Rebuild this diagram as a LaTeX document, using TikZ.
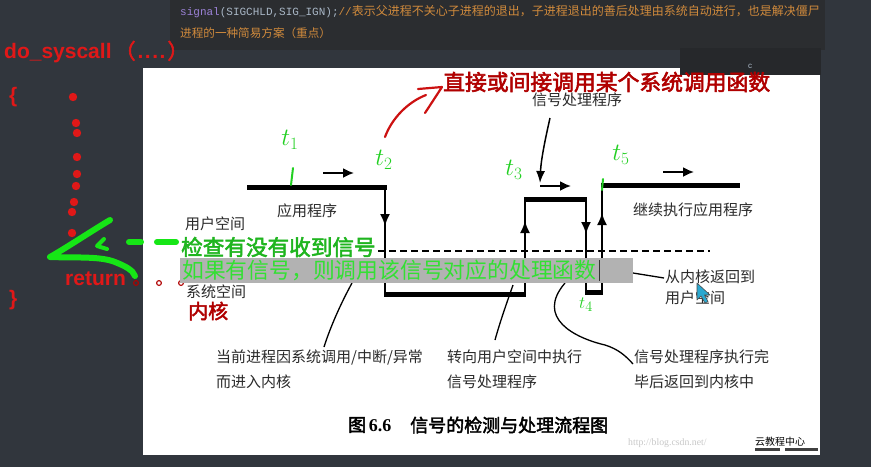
\documentclass[tikz,border=0pt]{standalone}
\usepackage{fontspec}
\setmainfont{Liberation Sans}
\newfontfamily\cjk[AutoFakeBold=2.5]{Noto Sans CJK SC}
\newfontfamily\codefont{Liberation Mono}
\newfontfamily\capserif{Liberation Serif}
\usetikzlibrary{arrows.meta}
\definecolor{bgc}{HTML}{31363D}
\definecolor{codebg}{HTML}{2B2D30}
\definecolor{boxdark}{HTML}{26282B}
\definecolor{codepurple}{HTML}{9C82D8}
\definecolor{codegray}{HTML}{A9B7C6}
\definecolor{codeorange}{HTML}{D08A3C}
\definecolor{redtxt}{HTML}{E01818}
\definecolor{darkred}{HTML}{B00000}
\definecolor{penred}{HTML}{CC1111}
\definecolor{pengreen}{HTML}{16E616}
\definecolor{tgreen}{HTML}{22D022}
\definecolor{gtext}{HTML}{1FB51F}
\definecolor{gtext2}{HTML}{33E033}
\definecolor{graybox}{HTML}{B2B2B2}
\definecolor{lblgray}{HTML}{2A2A2A}
\definecolor{wmgray}{HTML}{C8C8C8}
\definecolor{cursorblue}{HTML}{2AA8D0}
\begin{document}
\begin{tikzpicture}[x=1pt,y=-1pt,
  lbl/.style={anchor=west,inner sep=0pt,font=\cjk\fontsize{15}{18}\selectfont,text=lblgray},
  thickl/.style={line width=5pt,draw=black},
  thinl/.style={line width=1.6pt,draw=black},
  arr/.style={-{Latex[length=12pt,width=10pt]},line width=1.6pt},
  rarr/.style={-{Latex[length=11pt,width=10pt]},line width=1.8pt},
  redhand/.style={draw=penred,line width=2.2pt,line cap=round,line join=round},
  greenstroke/.style={draw=pengreen,line width=6pt,line cap=round,line join=round},
  tick/.style={draw=tgreen,line width=2pt,line cap=round},
  tlab/.style={inner sep=0pt,text=tgreen,font=\fontsize{25}{28}\selectfont},
  reddot/.style={fill=redtxt,draw=none},
  leader/.style={draw=black,line width=1.3pt}
]
\useasboundingbox (0,0) rectangle (871,467);
% backgrounds
\fill[bgc] (0,0) rectangle (871,467);
\fill[codebg] (170,0) rectangle (825,50);
\fill[white] (143,68) rectangle (820,455);
\fill[boxdark] (680,48) rectangle (821,75);
\node[inner sep=0pt,text=codegray,font=\fontsize{8}{9}\selectfont] (cc) at (750,66) {c};

% code text
\node[anchor=west,inner sep=0pt] (code1) at (180,12)
  {\codefont\fontsize{11}{13}\selectfont\textcolor{codepurple}{signal}\textcolor{codegray}{(SIGCHLD,SIG\_IGN);}\textcolor{codeorange}{//{\cjk\fontsize{12}{14}\selectfont 表示父进程不关心子进程的退出，子进程退出的善后处理由系统自动进行，也是解决僵尸}}};
\node[anchor=west,inner sep=0pt,text=codeorange,font=\cjk\fontsize{11.6}{14}\selectfont] (code2) at (180,33) {进程的一种简易方案（重点）};

% left red code
\node[anchor=west,inner sep=0pt,text=redtxt] (dosys) at (4,52)
  {\fontsize{21}{24}\selectfont\bfseries do\_syscall\hspace{3pt}{\cjk （}\hspace{2pt}.\hspace{1.5pt}.\hspace{1.5pt}.\hspace{1.5pt}.\hspace{2pt}{\cjk ）}};
\node[anchor=west,inner sep=0pt,text=redtxt,font=\fontsize{21}{24}\selectfont\bfseries] (lbrace) at (9,97) {\{};
\node[anchor=west,inner sep=0pt,text=redtxt,font=\fontsize{21}{24}\selectfont\bfseries] (rbrace) at (9,300) {\}};
\foreach \px/\py [count=\i] in {73/97,76/123,77/133,77/157,77/174,76/186,74/202,72/212,72/233}
  \fill[reddot] (\px,\py) circle (4.2);
\node[anchor=west,inner sep=0pt,text=redtxt,font=\fontsize{21}{24}\selectfont\bfseries] (ret) at (65,279) {return};
\foreach \px in {136,159,181}
  \draw[darkred,line width=1.1pt] (\px,283) circle (2.4);

% green strokes
\draw[greenstroke] (110,220) .. controls (90,232) and (66,248) .. (50,257)
  .. controls (75,258) and (100,256) .. (115,262) .. controls (125,266) and (133,270) .. (135,276);
\draw[greenstroke,line width=4pt] (104,239) -- (97,246) -- (107,249);
\draw[greenstroke] (129,242) -- (141,242);
\draw[greenstroke] (157,242) -- (176,242);

% ---------- figure ----------
\coordinate (a0) at (247,187);
\coordinate (a1) at (385,187);
\coordinate (b1) at (385,294);
\coordinate (b2) at (525,294);
\coordinate (c2) at (525,199);
\coordinate (c3) at (586,199);
\coordinate (d3) at (586,292);
\coordinate (d4) at (602,292);
\coordinate (e4) at (602,185);
\coordinate (e5) at (740,185);

\draw[thinl] (a1) -- (b1);
\draw[thinl] (b2) -- (c2);
\draw[thinl] (c3) -- (d3);
\draw[thinl] (d4) -- (e4);
\draw[thickl] (a0) -- ([xshift=1.5pt]a1);
\draw[thickl] ([xshift=-0.8pt]b1) -- ([xshift=0.8pt]b2);
\draw[thickl] ([xshift=-0.8pt]c2) -- ([xshift=0.8pt]c3);
\draw[thickl] ([xshift=-0.8pt]d3) -- ([xshift=0.8pt]d4);
\draw[thickl] ([xshift=-0.8pt]e4) -- (e5);

\draw[arr] (385,205) -- (385,226);
\draw[arr] (525,245) -- (525,221);
\draw[arr] (586,215) -- (586,234);
\draw[arr] (602,230) -- (602,213);
\draw[rarr] (323,173) -- (354,173);
\draw[rarr] (663,172) -- (694,172);

% dashed boundary
\draw[black,line width=1.2pt,dash pattern=on 7pt off 4pt] (378,251) -- (710,251);

% signal handler pointer
\node[lbl] (sigh) at (532,100) {信号处理程序};
\draw[-{Latex[length=12pt,width=9pt]},line width=1.5pt] (550,118) .. controls (545,140) and (541,160) .. (540,183);
\draw[rarr] (540,186) -- (571,186);

% labels
\node[lbl] (user) at (185,224) {用户空间};
\node[lbl] (sys) at (186,292) {系统空间};
\node[lbl] (app) at (277,211) {应用程序};
\node[lbl] (cont) at (633,210) {继续执行应用程序};
\node[lbl] (ret1) at (665,277) {从内核返回到};
\node[lbl] (ret2) at (665,298) {用户空间};
\node[lbl] (bt1) at (216,357) {当前进程因系统调用/中断/异常};
\node[lbl] (bt2) at (216,382) {而进入内核};
\node[lbl] (bt3) at (447,357) {转向用户空间中执行};
\node[lbl] (bt4) at (447,382) {信号处理程序};
\node[lbl] (bt5) at (634,357) {信号处理程序执行完};
\node[lbl] (bt6) at (634,382) {毕后返回到内核中};

% leaders
\draw[leader] (352,283) .. controls (340,305) and (330,328) .. (324,347);
\draw[leader] (513,285) .. controls (506,305) and (500,322) .. (495,340);
\draw[leader] (565,283) .. controls (535,318) and (575,338) .. (605,345)
  .. controls (618,349) and (626,356) .. (633,364);
\draw[leader] (633,273) -- (664,278);

% overlay annotations
\node[anchor=west,inner sep=0pt,text=gtext,font=\cjk\fontsize{21.6}{24}\selectfont\bfseries] (chk) at (181,247) {检查有没有收到信号};
\fill[graybox] (180,258) rectangle (633,283);
\node[anchor=west,inner sep=0pt,text=gtext2,font=\cjk\fontsize{21.8}{24}\selectfont] (ifs) at (182,270) {如果有信号，则调用该信号对应的处理函数};
\draw[black!80,line width=1pt] (599,260) -- (599,281);
\node[anchor=west,inner sep=0pt,text=darkred,font=\cjk\fontsize{20}{24}\selectfont\bfseries] (kern) at (188,311) {内核};

% red pen arrow and title
\draw[redhand] (385,137) .. controls (392,118) and (408,102) .. (426,95);
\draw[redhand] (418,89) -- (442,87) -- (425,113);
\node[anchor=west,inner sep=0pt,text=darkred,font=\cjk\fontsize{21.8}{24}\selectfont\bfseries] (title) at (443,82) {直接或间接调用某个系统调用函数};

% green t labels
\node[tlab] (t1) at (290,140) {$t_1$};
\node[tlab] (t2) at (384,160) {$t_2$};
\node[tlab] (t3) at (514,170) {$t_3$};
\node[tlab] (t5) at (621,155) {$t_5$};
\node[tlab,font=\fontsize{19}{22}\selectfont] (t4) at (586,305) {$t_4$};
\draw[tick] (293,168) -- (291,185);
\draw[tick] (603,179) -- (602,190);

% mouse cursor
\filldraw[fill=cursorblue,draw=black!70,line width=0.6pt,line join=round]
  (697,283) -- (697,300) -- (701,296) -- (705,303) -- (708,301.5) -- (704.5,295) -- (710,295) -- cycle;

% caption
\node[anchor=west,inner sep=0pt,text=black] (capA) at (348,425)
  {{\cjk\fontsize{18}{22}\selectfont\bfseries 图} {\capserif\fontsize{18}{22}\selectfont\bfseries 6.6}};
\node[anchor=west,inner sep=0pt,text=black,font=\cjk\fontsize{18}{22}\selectfont\bfseries] (capB) at (410,425) {信号的检测与处理流程图};

% watermark
\node[anchor=west,inner sep=0pt,text=wmgray,font=\fontsize{9.8}{11}\selectfont\capserif] (wm) at (628,443) {http://blog.csdn.net/};
\node[anchor=west,inner sep=0pt,text=black,font=\cjk\fontsize{10}{11}\selectfont] (wm2) at (755,442) {云教程中心};
\fill[black!75] (755,448) rectangle (780,451);
\fill[black!75] (785,448) rectangle (818,451);
\end{tikzpicture}
\end{document}
